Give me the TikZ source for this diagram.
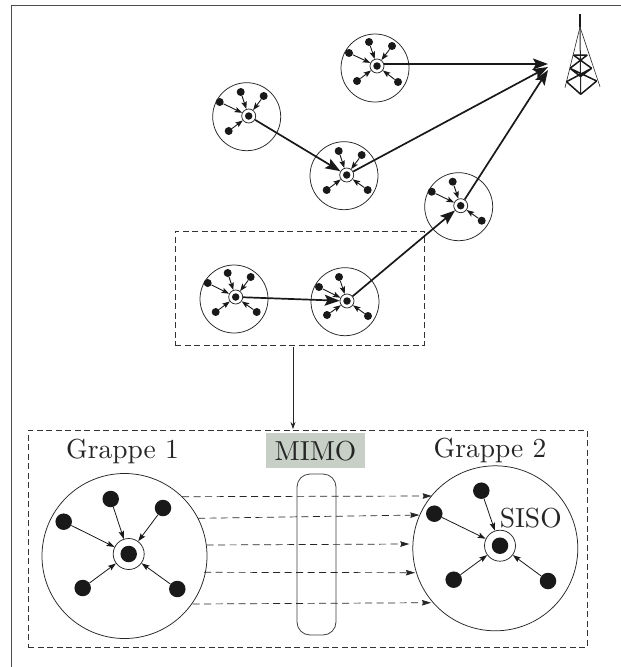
\documentclass[tikz,border=0pt]{standalone}
\usepackage{fontspec}
\newfontfamily\lmten[Extension=.otf]{lmroman10-regular}
\usetikzlibrary{arrows.meta}
\tikzset{
  x=1pt,y=-1pt,
  ink/.style={draw=black!85,line width=0.75pt},
  halo/.style={circle,ink,minimum size=68pt,inner sep=0pt},
  hub/.style={circle,ink,fill=white,minimum size=14pt,inner sep=0pt},
  core/.style={circle,fill=black!90,minimum size=7.5pt,inner sep=0pt},
  sat/.style={circle,fill=black!90,minimum size=8pt,inner sep=0pt},
  feed/.style={draw=black!90,line width=0.9pt,-{Stealth[length=7.5pt,width=5.5pt,inset=1.5pt]}},
  link/.style={draw=black!90,line width=1.7pt,-{Stealth[length=15pt,width=11pt,inset=3pt]}},
  bighalo/.style={circle,ink,minimum size=165pt,inner sep=0pt},
  bighub/.style={circle,ink,fill=white,minimum size=31pt,inner sep=0pt},
  bigcore/.style={circle,fill=black!90,minimum size=16.5pt,inner sep=0pt},
  bigsat/.style={circle,fill=black!90,minimum size=16.5pt,inner sep=0pt},
  bigfeed/.style={draw=black!90,line width=0.8pt,-{Stealth[length=8pt,width=5.5pt,inset=1.5pt]}},
  dashbox/.style={draw=black!80,line width=0.7pt,dash pattern=on 6pt off 3.5pt,inner sep=0pt},
  radio/.style={draw=black!85,line width=0.7pt,dash pattern=on 7pt off 4.5pt,-{Stealth[length=9pt,width=5.5pt,inset=1pt]}},
  bigtext/.style={font=\lmten\fontsize{27.5}{32}\selectfont,text=black!85,inner sep=0pt},
  tower/.style={draw=black!85,line width=0.6pt},
  towerx/.style={draw=black!90,line width=1.5pt},
}
\newcommand{\cluster}[4]{%
  \node[halo] (#1o) at (#2) {};
  \node[hub] (#1h) at (#3) {};
  \node[core] (#1c) at (#3) {};
  \foreach \k/\dx/\dy in {#4} {
    \node[sat] (#1s\k) at ([shift={(\dx,\dy)}]#3) {};
    \draw[feed] (#1s\k) -- (#1h);
  }
}
\begin{document}
\begin{tikzpicture}
\useasboundingbox (0,0) rectangle (621,667);
\fill[white] (0,0) rectangle (621,667);
% page frame
\coordinate (fa) at (11.5,667);
\coordinate (fb) at (11.5,5.5);
\coordinate (fc) at (621,5.5);
\draw[draw=black!70,line width=0.9pt] (fa) -- (fb) -- (fc);

% small clusters
\cluster{a}{375,68}{377,66}{1/-28/-13,2/-8/-24,3/15/-20,4/-20/15,5/21/16}
\cluster{b}{246.7,116.7}{248.7,116}{1/-29/-14,2/-8/-24,3/15/-20,4/-20/15}
\cluster{d}{344,175.7}{346.7,175}{2/-8/-24,3/15/-20,4/-20/15,5/21/15}
\cluster{e}{458.7,206.7}{460.7,205.7}{1/-29/-14,2/-8/-24,5/21/15}
\cluster{f}{234,299}{235.7,297}{1/-28/-14,2/-8/-24,3/15/-20,4/-20/15,5/21/15}
\cluster{g}{345,301.7}{347,301}{1/-28/-14,2/-8/-24,4/-20/14,5/21/15}

% thick links
\coordinate (t1) at (548,64);
\coordinate (t2) at (548,67);
\coordinate (t3) at (548,70);
\draw[link] (ah.east |- t1) -- (t1);
\draw[link] (dh) -- (t2);
\draw[link] (eh) -- (t3);
\draw[link] (bh) -- (dh);
\draw[link] (fh) -- (gh);
\draw[link] (gh) -- (eh);

% tower
\coordinate (mtop) at (580,14.3);
\coordinate (apex) at (580,27);
\coordinate (lf) at (565,87.7);
\coordinate (rf) at (600,86.7);
\coordinate (mf) at (580.7,94.3);
\coordinate (p1) at (573.3,55);
\coordinate (p2) at (587.3,55);
\coordinate (p3) at (570,68.3);
\coordinate (p4) at (591.7,68.3);
\coordinate (p5) at (566.5,81.7);
\coordinate (p6) at (596.7,81);
\coordinate (q1) at (580.5,62);
\coordinate (q2) at (580.5,76.5);
\draw[towerx,line width=1.9pt] (mtop) -- (apex);
\draw[tower] (apex) -- (lf);
\draw[tower] (apex) -- (rf);
\draw[tower,line width=1pt] (apex) -- (mf);
\draw[towerx] (p1) -- (p2) (p1) -- (p4) (p2) -- (p3) (p3) -- (q2) (p4) -- (q2) (p3) -- (p6) (p4) -- (p5) (p5) -- (mf) (p6) -- (mf);

% dashed boxes
\node[dashbox,minimum width=249pt,minimum height=114pt] (box1) at (299.5,288) {};
\node[dashbox,minimum width=559pt,minimum height=217pt] (box2) at (307.5,538.5) {};
\coordinate (drop1) at (293,347);
\coordinate (drop2) at (293,429);
\draw[draw=black!85,line width=0.7pt,-{Stealth[length=7pt,width=5pt]}] (drop1) -- (drop2);

% MIMO
\node[fill=green!15!black!22,minimum width=99.5pt,minimum height=35.5pt,inner sep=0pt] (mimolab) at (315.5,450.5) {};
\node[bigtext] (mimo) at (315.5,451) {MIMO};
\node[draw=black!75,line width=0.8pt,rounded corners=13pt,minimum width=39pt,minimum height=161pt,inner sep=0pt] (pill) at (316.5,554.5) {};

\node[bigtext] (g1lab) at (122.5,451) {Grappe 1};
\node[bigtext] (g2lab) at (490,450) {Grappe 2};

% big cluster 1
\node[bighalo] (g1o) at (124.5,556) {};
\node[bighub] (g1h) at (128.7,554) {};
\node[bigcore] (g1c) at (128.7,554) {};
\foreach \k/\p in {1/{63.7,521.7},2/{110.7,499},3/{163,508},4/{82.7,588},5/{177.3,589}} {
  \node[bigsat] (g1s\k) at (\p) {};
  \draw[bigfeed] (g1s\k) -- (g1h);
}
% big cluster 2
\node[bighalo] (g2o) at (495.3,548.3) {};
\node[bighub] (g2h) at (500,545.7) {};
\node[bigcore] (g2c) at (500,545.7) {};
\foreach \k/\p in {1/{434.3,513.7},2/{481.3,490.7},4/{453.7,579.7},5/{548,581}} {
  \node[bigsat] (g2s\k) at (\p) {};
  \draw[bigfeed] (g2s\k) -- (g2h);
}
\node[bigtext] (siso) at (530.7,518.5) {SISO};

% radio links
\foreach \k/\xa/\ya/\xb/\yb in {1/182/496.7/431.7/496,2/198/518.3/419.3/515,3/206.7/545/409.3/544,4/204/572.3/415/572.7,5/192.7/604/431/602.7} {
  \coordinate (ra\k) at (\xa,\ya);
  \coordinate (rb\k) at (\xb,\yb);
  \draw[radio] (ra\k) -- (rb\k);
}
\end{tikzpicture}
\end{document}
